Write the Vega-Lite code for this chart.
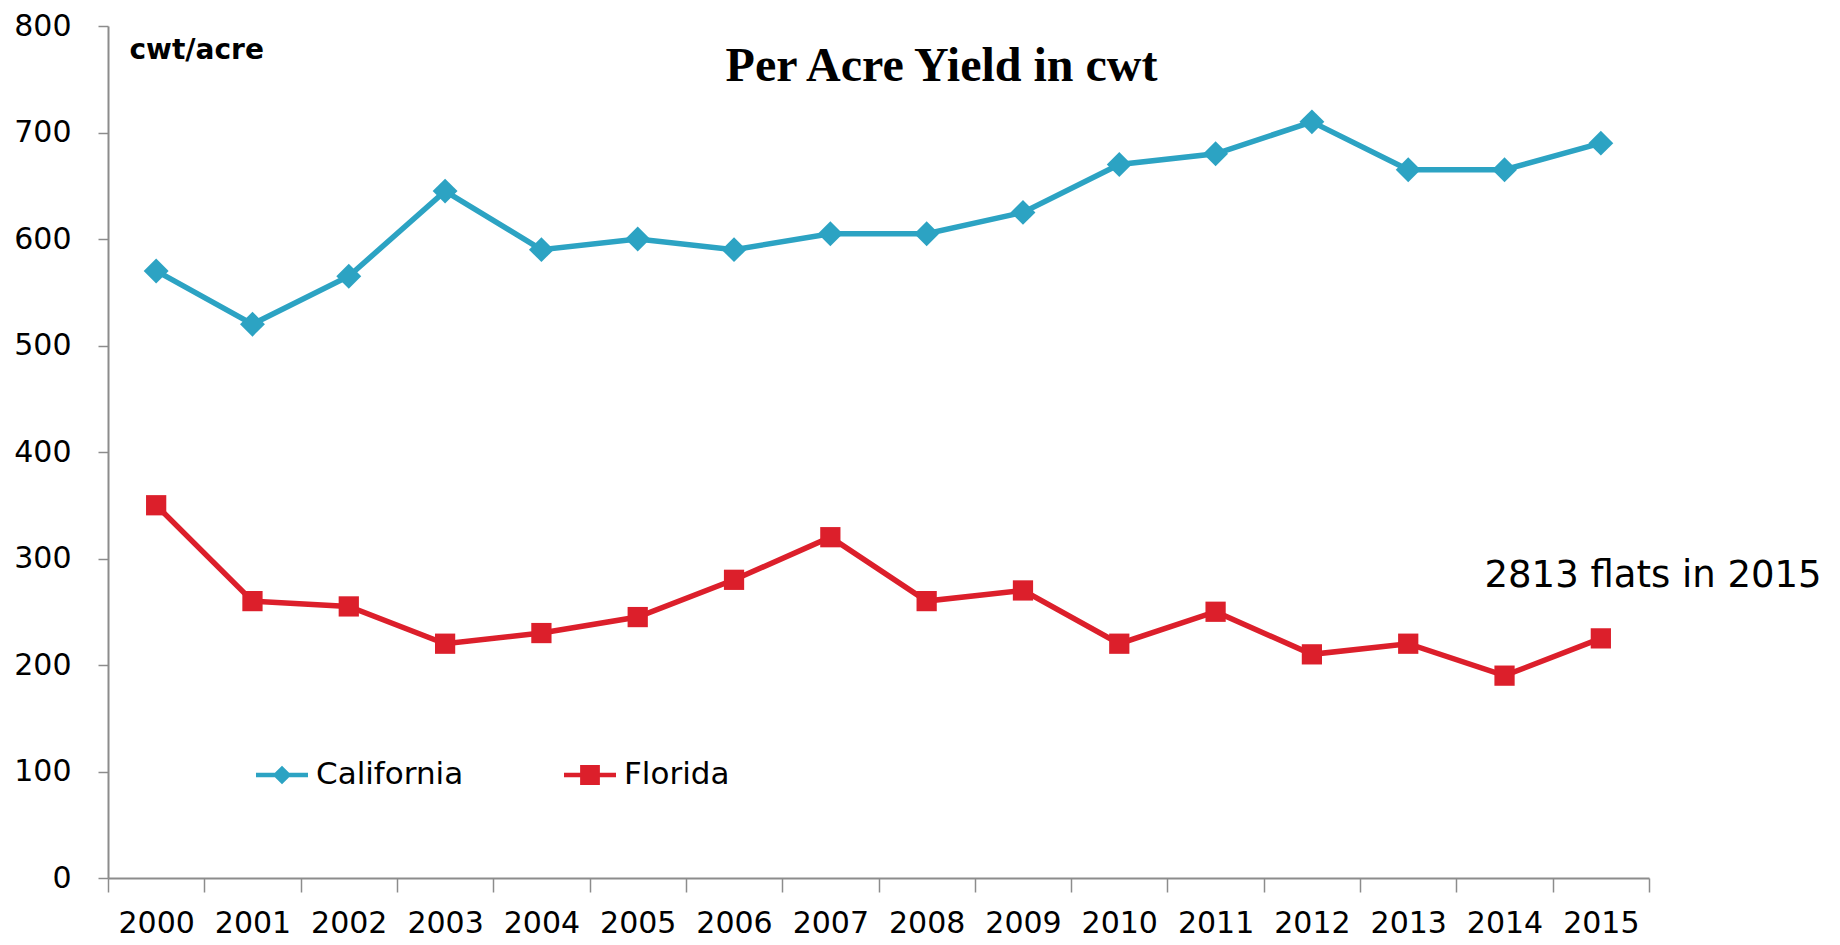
{
  "$schema": "https://vega.github.io/schema/vega-lite/v6.json",
  "width": 1541,
  "height": 852,
  "autosize": {"type": "none"},
  "padding": {"left": 108, "top": 26, "right": 191, "bottom": 67},
  "background": "white",
  "config": {"view": {"stroke": null}, "font": "DejaVu Sans"},
  "title": {
    "text": "Per Acre Yield in cwt",
    "font": "Liberation Serif",
    "fontSize": 48,
    "fontWeight": "bold",
    "color": "black",
    "anchor": "middle",
    "dx": 63,
    "dy": 118,
    "offset": 0,
    "baseline": "alphabetic"
  },
  "data": {
    "values": [
      {"year": "2000", "state": "California", "yield": 570},
      {"year": "2001", "state": "California", "yield": 520},
      {"year": "2002", "state": "California", "yield": 565},
      {"year": "2003", "state": "California", "yield": 645},
      {"year": "2004", "state": "California", "yield": 590},
      {"year": "2005", "state": "California", "yield": 600},
      {"year": "2006", "state": "California", "yield": 590},
      {"year": "2007", "state": "California", "yield": 605},
      {"year": "2008", "state": "California", "yield": 605},
      {"year": "2009", "state": "California", "yield": 625},
      {"year": "2010", "state": "California", "yield": 670},
      {"year": "2011", "state": "California", "yield": 680},
      {"year": "2012", "state": "California", "yield": 710},
      {"year": "2013", "state": "California", "yield": 665},
      {"year": "2014", "state": "California", "yield": 665},
      {"year": "2015", "state": "California", "yield": 690},
      {"year": "2000", "state": "Florida", "yield": 350},
      {"year": "2001", "state": "Florida", "yield": 260},
      {"year": "2002", "state": "Florida", "yield": 255},
      {"year": "2003", "state": "Florida", "yield": 220},
      {"year": "2004", "state": "Florida", "yield": 230},
      {"year": "2005", "state": "Florida", "yield": 245},
      {"year": "2006", "state": "Florida", "yield": 280},
      {"year": "2007", "state": "Florida", "yield": 320},
      {"year": "2008", "state": "Florida", "yield": 260},
      {"year": "2009", "state": "Florida", "yield": 270},
      {"year": "2010", "state": "Florida", "yield": 220},
      {"year": "2011", "state": "Florida", "yield": 250},
      {"year": "2012", "state": "Florida", "yield": 210},
      {"year": "2013", "state": "Florida", "yield": 220},
      {"year": "2014", "state": "Florida", "yield": 190},
      {"year": "2015", "state": "Florida", "yield": 225}
    ]
  },
  "encoding": {
    "x": {
      "field": "year",
      "type": "ordinal",
      "scale": {"type": "band", "paddingInner": 0, "paddingOuter": 0},
      "axis": {
        "title": null,
        "labelAngle": 0,
        "labelFont": "DejaVu Sans",
        "labelFontSize": 30,
        "labelColor": "black",
        "labelPadding": 16,
        "tickBand": "extent",
        "tickSize": 14,
        "tickColor": "#8c8c8c",
        "tickWidth": 1.5,
        "domainColor": "#8c8c8c",
        "domainWidth": 2,
        "grid": false
      }
    },
    "y": {
      "field": "yield",
      "type": "quantitative",
      "scale": {"domain": [0, 800], "nice": false},
      "axis": {
        "values": [0, 100, 200, 300, 400, 500, 600, 700, 800],
        "title": "cwt/acre",
        "titleAngle": 0,
        "titleX": 21,
        "titleY": 32,
        "titleAlign": "left",
        "titleBaseline": "alphabetic",
        "titleFont": "DejaVu Sans",
        "titleFontWeight": "bold",
        "titleFontSize": 28,
        "titleColor": "black",
        "labelFont": "DejaVu Sans",
        "labelFontSize": 30,
        "labelColor": "black",
        "labelPadding": 27,
        "tickSize": 10,
        "tickColor": "#8c8c8c",
        "tickWidth": 1.5,
        "domainColor": "#8c8c8c",
        "domainWidth": 2,
        "grid": false
      }
    }
  },
  "layer": [
    {
      "mark": {"type": "line", "strokeWidth": 5.5},
      "encoding": {
        "color": {
          "field": "state",
          "type": "nominal",
          "scale": {"domain": ["California", "Florida"], "range": ["#2ca3c3", "#dc1f2b"]},
          "legend": {
            "title": null,
            "orient": "none",
            "legendX": 148,
            "legendY": 723,
            "direction": "horizontal",
            "padding": 0,
            "columnPadding": 100,
            "symbolSize": 2704,
            "symbolStrokeWidth": 0,
            "labelFont": "DejaVu Sans",
            "labelFontSize": 31,
            "labelColor": "black",
            "labelOffset": 8,
            "encode": {
              "symbols": {
                "update": {
                  "shape": {"signal": "datum.value === 'California' ? 'M-1,-0.09L1,-0.09L1,0.09L-1,0.09Z M0,-0.36L0.36,0L0,0.36L-0.36,0Z' : 'M-1,-0.09L1,-0.09L1,0.09L-1,0.09Z M-0.38,-0.38L0.38,-0.38L0.38,0.38L-0.38,0.38Z'"},
                  "fill": {"scale": "color", "field": "value"},
                  "fillOpacity": {"value": 1},
                  "strokeWidth": {"value": 0},
                  "size": {"value": 2704}
                }
              }
            }
          }
        }
      }
    },
    {
      "transform": [{"filter": "datum.state === 'California'"}],
      "mark": {"type": "point", "filled": true, "opacity": 1, "shape": "diamond", "size": 620},
      "encoding": {
        "color": {"field": "state", "type": "nominal", "legend": null}
      }
    },
    {
      "transform": [{"filter": "datum.state === 'Florida'"}],
      "mark": {"type": "point", "filled": true, "opacity": 1, "shape": "square", "size": 410},
      "encoding": {
        "color": {"field": "state", "type": "nominal", "legend": null}
      }
    },
    {
      "data": {"values": [{"year": "2014", "yield": 284, "label": "2813 flats in 2015"}]},
      "mark": {"type": "text", "align": "left", "baseline": "middle", "dx": -20, "fontSize": 37, "font": "DejaVu Sans", "color": "black"},
      "encoding": {
        "text": {"field": "label", "type": "nominal"}
      }
    }
  ]
}
